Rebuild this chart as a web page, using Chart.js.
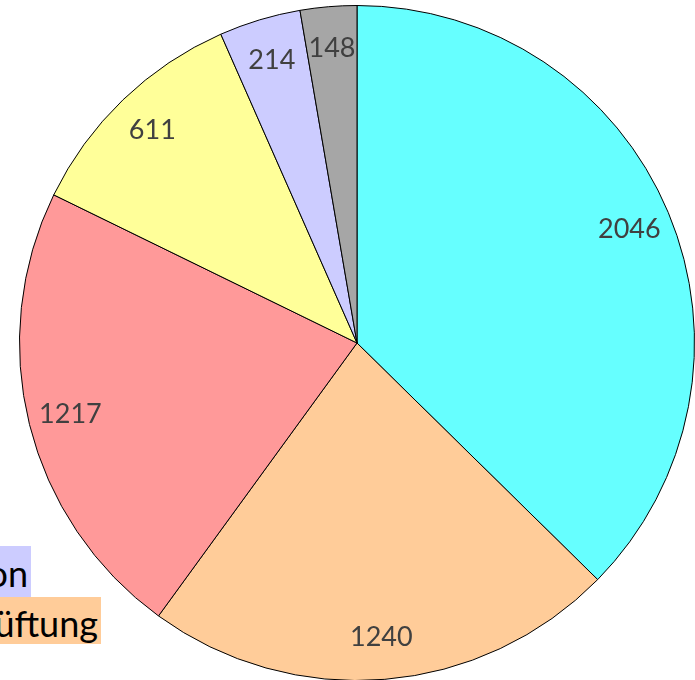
<!DOCTYPE html>
<html>
<head>
<meta charset="utf-8">
<script src="https://cdn.jsdelivr.net/npm/chart.js@4.4.0/dist/chart.umd.min.js"></script>
<style>
  html, body { margin: 0; padding: 0; width: 695px; height: 680px; overflow: hidden; background: #fff; }
  #wrap { position: absolute; left: 19px; top: 5px; width: 676px; height: 676px; }
  .leg { position: absolute; left: 0; overflow: hidden; }
  .leg span { position: absolute; line-height: 36px; white-space: nowrap;
              font-family: Lato, "Open Sans", sans-serif; font-size: 36px; color: #000; }
</style>
</head>
<body>
<div id="wrap"><canvas id="tortaGrafico"></canvas></div>
<div class="leg" style="top:546px; width:31px; height:51px; background:#CCCCFF;"><span style="right:3px; top:9px;">on</span></div>
<div class="leg" style="top:597px; width:101px; height:47px; background:#FFCC99;"><span style="right:3px; top:8px;">üftung</span></div>
<script>
// Valores de la torta (en orden, sentido horario desde arriba)
const etiquetas = ["A", "B", "C", "D", "E", "F"];
const valores = [2046, 1240, 1217, 611, 214, 148];
const colores = ["#66FFFF", "#FFCC99", "#FF9999", "#FFFF99", "#CCCCFF", "#A6A6A6"];

// Plugin simple para escribir los valores dentro de cada porción
const etiquetasValores = {
  id: "etiquetasValores",
  afterDatasetsDraw(chart) {
    const ctx = chart.ctx;
    const meta = chart.getDatasetMeta(0);
    ctx.save();
    ctx.font = "27px Lato, 'Open Sans', sans-serif";
    ctx.fillStyle = "#404040";
    ctx.textAlign = "center";
    ctx.textBaseline = "middle";
    meta.data.forEach((arc, i) => {
      const p = arc.getProps(["x", "y", "startAngle", "endAngle", "outerRadius"], true);
      const medio = (p.startAngle + p.endAngle) / 2;
      const r = p.outerRadius * 0.875;
      ctx.fillText(String(valores[i]), p.x + Math.cos(medio) * r, p.y + Math.sin(medio) * r);
    });
    ctx.restore();
  },
};

window.onload = function () {
  const ctx = document.getElementById("tortaGrafico").getContext("2d");
  new Chart(ctx, {
    type: "pie",
    data: {
      labels: etiquetas,
      datasets: [
        {
          data: valores,
          backgroundColor: colores,
          borderColor: "#000000",
          borderWidth: 1,
        },
      ],
    },
    options: {
      responsive: true,
      maintainAspectRatio: false,
      animation: false,
      layout: { padding: 0 },
      plugins: {
        legend: { display: false },
        tooltip: { enabled: false },
      },
    },
    plugins: [etiquetasValores],
  });
};
</script>
</body>
</html>
